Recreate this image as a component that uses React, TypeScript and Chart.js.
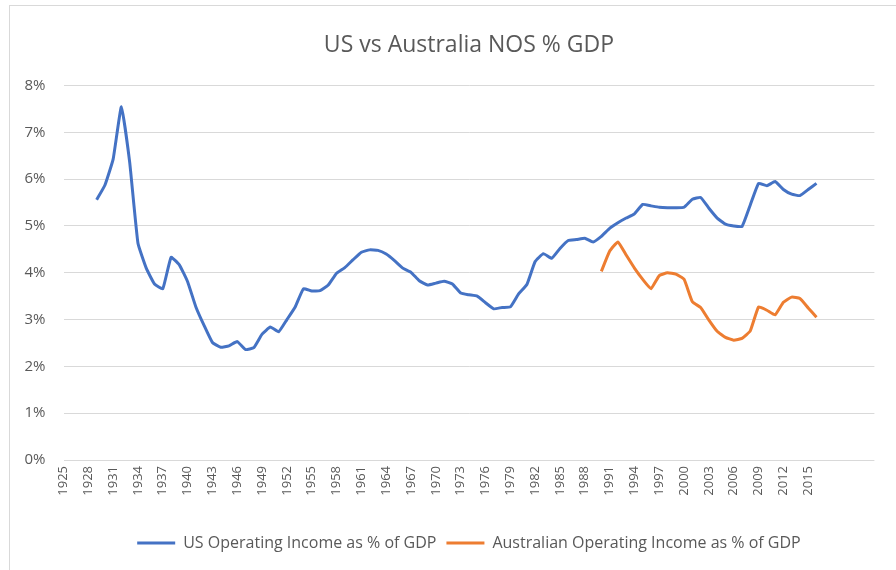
import React, { useEffect, useRef } from "react";
import { Chart, registerables } from "chart.js";

Chart.register(...registerables);

const chartTitle = "US vs Australia NOS % GDP";
const firstYear = 1925;
const lastYear = 2023;
const lastLabelYear = 2015;
const categories: string[] = Array.from({ length: lastYear - firstYear + 1 }, (_, i) => String(firstYear + i));

const usLabel = "US Operating Income as % of GDP";
const usStartYear = 1929;
const usValues = [
  5.56, 5.87, 6.43, 7.55, 6.36, 4.63, 4.10, 3.76, 3.66, 4.33,
  4.17, 3.81, 3.27, 2.87, 2.51, 2.41, 2.44, 2.53, 2.36, 2.40,
  2.69, 2.84, 2.74, 3.00, 3.27, 3.66, 3.61, 3.62, 3.74, 3.99,
  4.11, 4.28, 4.44, 4.49, 4.48, 4.40, 4.26, 4.10, 4.01, 3.83,
  3.74, 3.78, 3.82, 3.76, 3.57, 3.53, 3.50, 3.36, 3.23, 3.26,
  3.27, 3.55, 3.75, 4.24, 4.41, 4.31, 4.52, 4.69, 4.71, 4.74,
  4.66, 4.78, 4.95, 5.07, 5.17, 5.26, 5.46, 5.43, 5.40, 5.39,
  5.39, 5.40, 5.57, 5.61, 5.38, 5.17, 5.04, 5.00, 4.99, 5.45,
  5.91, 5.86, 5.95, 5.78, 5.68, 5.65, 5.78, 5.91,
];

const ausLabel = "Australian Operating Income as % of GDP";
const ausStartYear = 1990;
const ausValues = [
  4.03, 4.46, 4.66, 4.38, 4.10, 3.86, 3.66, 3.94, 4.00, 3.97,
  3.86, 3.38, 3.26, 2.99, 2.75, 2.62, 2.56, 2.60, 2.76, 3.27,
  3.20, 3.10, 3.37, 3.48, 3.45, 3.25, 3.05,
];

const yTicks = [0, 1, 2, 3, 4, 5, 6, 7, 8];

const usColor = "#4472C4";
const ausColor = "#ED7D31";
const textColor = "#595959";
const gridColor = "#D9D9D9";
const fontFamily = "'Open Sans', sans-serif";

function alignSeries(start: number, values: number[]): (number | null)[] {
  return categories.map((c) => {
    const idx = Number(c) - start;
    return idx >= 0 && idx < values.length ? values[idx] : null;
  });
}

export default function App() {
  const canvasRef = useRef<HTMLCanvasElement | null>(null);

  useEffect(() => {
    document.body.style.margin = "0";
    const canvas = canvasRef.current;
    if (!canvas) return;
    const chart = new Chart(canvas, {
      type: "line",
      data: {
        labels: categories,
        datasets: [
          {
            label: usLabel,
            data: alignSeries(usStartYear, usValues),
            borderColor: usColor,
            backgroundColor: usColor,
            borderWidth: 3,
            pointRadius: 0,
            tension: 0.12,
            spanGaps: false,
            pointStyle: "line",
          },
          {
            label: ausLabel,
            data: alignSeries(ausStartYear, ausValues),
            borderColor: ausColor,
            backgroundColor: ausColor,
            borderWidth: 3,
            pointRadius: 0,
            tension: 0.12,
            spanGaps: false,
            pointStyle: "line",
          },
        ],
      },
      options: {
        animation: false,
        responsive: false,
        maintainAspectRatio: false,
        layout: { padding: { left: 0, right: 17.5, top: 0, bottom: 9 } },
        plugins: {
          title: {
            display: true,
            text: chartTitle,
            color: textColor,
            fullSize: false,
            font: { family: fontFamily, size: 23, weight: "normal" },
            padding: { top: 32, bottom: 26 },
          },
          legend: {
            position: "bottom",
            fullSize: false,
            labels: {
              color: textColor,
              font: { family: fontFamily, size: 16 },
              usePointStyle: true,
              pointStyleWidth: 38,
              boxHeight: 16,
              padding: 10,
            },
          },
          tooltip: { enabled: false },
        },
        scales: {
          x: {
            type: "category",
            grid: { display: false, drawTicks: false },
            border: { display: false },
            ticks: {
              autoSkip: false,
              maxRotation: 90,
              minRotation: 90,
              padding: 6,
              color: textColor,
              font: { family: fontFamily, size: 13 },
              callback: function (_v: any, index: number) {
                const year = Number(categories[index]);
                return (year - firstYear) % 3 === 0 && year <= lastLabelYear ? String(year) : "";
              },
            },
            afterFit: (scale: any) => {
              scale.height = 65;
            },
          },
          y: {
            min: 0,
            max: 8,
            afterBuildTicks: (scale: any) => {
              scale.ticks = yTicks.map((v) => ({ value: v }));
            },
            grid: { color: gridColor, lineWidth: 1, drawTicks: false },
            border: { display: false },
            ticks: {
              padding: 18,
              color: textColor,
              font: { family: fontFamily, size: 15 },
              callback: (v: any) => `${v}%`,
            },
            afterFit: (scale: any) => {
              scale.width = 63.5;
            },
          },
        },
      },
    });
    return () => chart.destroy();
  }, []);

  return (
    <div style={{ position: "relative", width: 896, height: 570, background: "#fff" }}>
      <canvas ref={canvasRef} width={896} height={570} style={{ display: "block" }} />
      <div
        style={{
          position: "absolute",
          left: 9,
          top: 5,
          right: 0,
          bottom: 0,
          borderLeft: "1px solid #D9D9D9",
          borderTop: "1px solid #D9D9D9",
          pointerEvents: "none",
        }}
      />
    </div>
  );
}
